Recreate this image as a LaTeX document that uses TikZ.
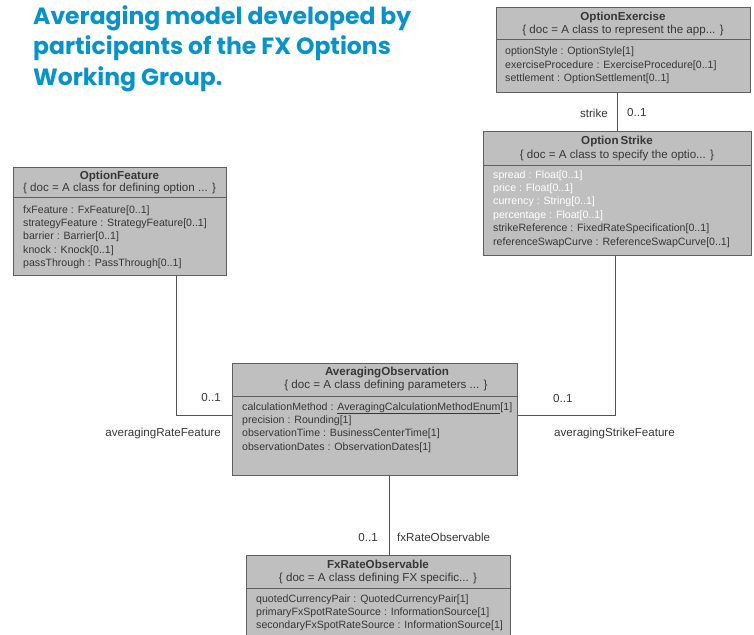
\documentclass[tikz,border=0pt]{standalone}
\usepackage{fontspec}
\setmainfont{Liberation Sans}
\newfontfamily\titlefont{Poppins}
\usetikzlibrary{calc}
\definecolor{boxfill}{RGB}{191,191,191}
\definecolor{boxborder}{RGB}{95,95,95}
\definecolor{txt}{RGB}{55,55,55}
\definecolor{lineclr}{RGB}{85,85,85}
\definecolor{headblue}{RGB}{8,146,200}
\newcommand\attrlines[4]{\foreach \t [count=\i from 0] in {#4} {\node[attr] (#1-\i) at (#2, #3+13.4*\i) {\t};}}
\begin{document}
\begin{tikzpicture}[x=1pt,y=-1pt,
  cls/.style={draw=boxborder, fill=boxfill, line width=1pt, anchor=north west, inner sep=0pt, outer sep=0pt},
  ttl/.style={font=\fontsize{11.6}{12}\selectfont\bfseries, text=txt, inner sep=0pt, anchor=base},
  doc/.style={font=\fontsize{11.6}{12}\selectfont, text=txt, inner sep=0pt, anchor=base},
  attr/.style={font=\fontsize{10.6}{12}\selectfont, text=txt, inner sep=0pt, anchor=base west},
  div/.style={draw=boxborder, line width=1pt},
  conn/.style={draw=lineclr, line width=1pt},
  lbl/.style={font=\fontsize{11.6}{12}\selectfont, text=txt, inner sep=0pt},
  head/.style={font=\titlefont\bfseries\fontsize{23.5}{26}\selectfont, text=headblue, inner sep=0pt, anchor=base west}
]
\path[use as bounding box] (0,0) rectangle (754,634);
\clip (0,0) rectangle (754,634);
\fill[white] (0,0) rectangle (754,634);

% heading
\node[head] (h1) at (33,25) {Averaging model developed by};
\node[head] (h2) at (33,55) {participants of the FX Options};
\node[head] (h3) at (33,85) {Working Group.};

% OptionExercise
\node[cls, minimum width=254, minimum height=84] (ox) at (496,8) {};
\node[ttl] (ox-t) at (623,21) {OptionExercise};
\node[doc] (ox-d) at (623,34) {\{ doc = A class to represent the app... \}};
\draw[div] (ox.west |- 0,40) -- (ox.east |- 0,40);
\attrlines{oxa}{505}{55}{{optionStyle : OptionStyle[1]},{exerciseProcedure : ExerciseProcedure[0..1]},{settlement : OptionSettlement[0..1]}}

% OptionStrike
\node[cls, minimum width=268, minimum height=124] (os) at (483,131) {};
\node[ttl] (os-t) at (617,144) {Option\,Strike};
\node[doc] (os-d) at (617,158) {\{ doc = A class to specify the optio... \}};
\draw[div] (os.west |- 0,165) -- (os.east |- 0,165);
\attrlines{osw}{493}{178}{{\textcolor{white}{spread : Float[0..1]}},{\textcolor{white}{price : Float[0..1]}},{\textcolor{white}{currency : String[0..1]}},{\textcolor{white}{percentage : Float[0..1]}},{strikeReference : FixedRateSpecification[0..1]},{referenceSwapCurve : ReferenceSwapCurve[0..1]}}

% OptionFeature
\node[cls, minimum width=213, minimum height=108] (of) at (13,167) {};
\node[ttl] (of-t) at (119.5,179) {OptionFeature};
\node[doc] (of-d) at (119.5,191) {\{ doc = A class for defining option ... \}};
\draw[div] (of.west |- 0,197) -- (of.east |- 0,197);
\attrlines{ofa}{23}{213}{{fxFeature : FxFeature[0..1]},{strategyFeature : StrategyFeature[0..1]},{barrier : Barrier[0..1]},{knock : Knock[0..1]},{passThrough : PassThrough[0..1]}}

% AveragingObservation
\node[cls, minimum width=285, minimum height=112] (ao) at (232,363) {};
\node[ttl] (ao-t) at (387,375) {AveragingObservation};
\node[doc] (ao-d) at (386,388) {\{ doc = A class defining parameters ... \}};
\draw[div] (ao.west |- 0,396) -- (ao.east |- 0,396);
\attrlines{aoa}{242}{410}{{calculationMethod : \underline{AveragingCalculationMethodEnum}[1]},{precision : Rounding[1]},{observationTime : BusinessCenterTime[1]},{observationDates : ObservationDates[1]}}

% FxRateObservable
\node[cls, minimum width=264, minimum height=100] (fx) at (246,555) {};
\node[ttl] (fx-t) at (378,568) {FxRateObservable};
\node[doc] (fx-d) at (378,581) {\{ doc = A class defining FX specific... \}};
\draw[div] (fx.west |- 0,588) -- (fx.east |- 0,588);
\attrlines{fxa}{256}{602}{{quotedCurrencyPair : QuotedCurrencyPair[1]},{primaryFxSpotRateSource : InformationSource[1]},{secondaryFxSpotRateSource : InformationSource[1]}}

% connectors
\coordinate (fl) at (176,0);
\coordinate (sl) at (615,0);
\coordinate (bl) at (389,0);
\draw[conn] (os.north |- ox.south) -- (os.north);
\draw[conn] (of.south -| fl) |- ([yshift=4pt]ao.west);
\draw[conn] (os.south -| sl) |- ([yshift=4pt]ao.east);
\draw[conn] (ao.south -| bl) -- (fx.north -| bl);

% labels
\node[lbl, anchor=east] (l1) at (608,113) {strike};
\node[lbl, anchor=west] (l2) at (627,113) {0..1};
\node[lbl, anchor=east] (l3) at (221,398) {0..1};
\node[lbl, anchor=east] (l4) at (221,433) {averagingRateFeature};
\node[lbl, anchor=west] (l5) at (553,399) {0..1};
\node[lbl, anchor=west] (l6) at (554,433) {averagingStrikeFeature};
\node[lbl, anchor=east] (l7) at (378,537) {0..1};
\node[lbl, anchor=west] (l8) at (397,537) {fxRateObservable};
\end{tikzpicture}
\end{document}
